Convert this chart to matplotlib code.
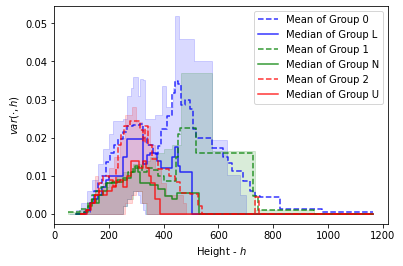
import matplotlib.pyplot as plt
import numpy as np

# Group 0 (blue)
x0_mean = [80, 110, 130, 145, 160, 175, 190, 205, 220, 235, 250, 265, 290, 315, 325, 340, 360, 380, 392,
           411, 429, 441, 453, 462, 478, 496, 508, 520, 577, 617, 636, 648, 690, 714, 734, 752, 825, 977, 1165]
y0_mean = [0, 0.0005, 0.003, 0.006, 0.008, 0.010, 0.0135, 0.016, 0.018, 0.0196, 0.0214, 0.023, 0.0232, 0.0235,
           0.020, 0.0182, 0.0156, 0.0178, 0.0222, 0.0257, 0.0318, 0.0348, 0.034, 0.0287, 0.030, 0.0275, 0.0222,
           0.0200, 0.0174, 0.015, 0.0134, 0.0114, 0.0086, 0.006, 0.0047, 0.0045, 0.0013, 0.0005, 0.0005]
x0_med = [80, 115, 130, 145, 160, 175, 190, 200, 250, 268, 325, 340, 350, 375, 390, 430, 440, 452, 459,
          502, 1165]
y0_med = [0, 0.001, 0.003, 0.004, 0.005, 0.007, 0.009, 0.010, 0.015, 0.0196, 0.013, 0.0155, 0.016, 0.014,
          0.012, 0.015, 0.0175, 0.0125, 0.0109, 0, 0]
x0_band = [60, 80, 100, 120, 140, 160, 180, 200, 215, 250, 265, 280, 290, 305, 315, 325, 332, 370, 395,
           410, 435, 441, 455, 511, 577, 632, 680, 700, 1165]
y0_up = [0, 0.001, 0.003, 0.006, 0.009, 0.013, 0.017, 0.021, 0.0243, 0.025, 0.031, 0.033, 0.0358, 0.031,
         0.0355, 0.035, 0.0248, 0.026, 0.0335, 0.028, 0.033, 0.052, 0.046, 0.040, 0.0195, 0.0102, 0.005, 0, 0]
y0_low = [0, 0, 0, 0, 0, 0, 0, 0, 0, 0.002, 0.004, 0.005, 0.006, 0.005, 0.003, 0.001, 0, 0, 0,
          0, 0, 0, 0, 0, 0, 0, 0, 0, 0]

# Group 1 (green)
x1_mean = [50, 94, 123, 140, 155, 170, 190, 210, 230, 250, 270, 290, 310, 320, 340, 360, 380, 400, 445,
           452, 459, 520, 726, 745, 950, 1165]
y1_mean = [0.0006, 0.0012, 0.003, 0.005, 0.006, 0.007, 0.008, 0.0085, 0.009, 0.0095, 0.011, 0.012, 0.0125,
           0.011, 0.012, 0.0115, 0.010, 0.0086, 0.015, 0.021, 0.0226, 0.0161, 0.0047, 0.001, 0, 0]
x1_med = [80, 110, 125, 140, 155, 165, 180, 195, 230, 250, 265, 280, 295, 305, 315, 335, 350, 380, 405,
          430, 450, 528, 1165]
y1_med = [0, 0.0005, 0.002, 0.004, 0.003, 0.005, 0.006, 0.008, 0.0085, 0.009, 0.0095, 0.011, 0.0125, 0.011,
          0.008, 0.008, 0.0075, 0.0065, 0.0047, 0.004, 0.0056, 0, 0]
x1_band = [50, 100, 130, 150, 170, 200, 230, 250, 265, 290, 320, 335, 350, 380, 400, 430, 464, 575, 735,
           950, 1165]
y1_up = [0.0005, 0.001, 0.003, 0.006, 0.007, 0.009, 0.010, 0.011, 0.011, 0.013, 0.014, 0.014, 0.015, 0.016,
         0.017, 0.018, 0.037, 0.0165, 0.001, 0, 0]
y1_low = [0, 0, 0, 0, 0, 0, 0, 0.002, 0.004, 0.006, 0.003, 0, 0, 0,
          0, 0, 0, 0, 0, 0, 0]

# Group 2 (red)
x2_mean = [95, 115, 130, 150, 165, 180, 200, 216, 225, 235, 245, 255, 276, 313, 325, 332, 343, 358, 380,
           420, 441, 459, 496, 525, 539, 735, 748, 1165]
y2_mean = [0, 0.001, 0.003, 0.005, 0.008, 0.010, 0.009, 0.0073, 0.012, 0.018, 0.021, 0.023, 0.0243, 0.022,
           0.019, 0.023, 0.018, 0.0143, 0.0117, 0.010, 0.0083, 0.0056, 0.0052, 0.002, 0, 0.0045, 0, 0]
x2_med = [100, 120, 135, 150, 165, 180, 195, 210, 225, 240, 250, 265, 280, 310, 325, 335, 345, 355, 370,
          385, 1165]
y2_med = [0, 0.001, 0.003, 0.005, 0.006, 0.005, 0.006, 0.007, 0.0085, 0.009, 0.007, 0.010, 0.0139, 0.012,
          0.014, 0.012, 0.010, 0.008, 0.004, 0, 0]
x2_band = [90, 110, 130, 150, 160, 180, 200, 220, 240, 260, 285, 300, 320, 340, 350, 370, 390, 410, 470,
           480, 1165]
y2_up = [0, 0.001, 0.004, 0.010, 0.006, 0.008, 0.012, 0.015, 0.020, 0.026, 0.028, 0.024, 0.022, 0.023,
         0.018, 0.012, 0.008, 0.005, 0.003, 0, 0]
y2_low = [0, 0, 0, 0, 0, 0, 0, 0, 0, 0.003, 0.005, 0.006, 0.003, 0, 0, 0, 0, 0, 0, 0, 0]

fig, ax = plt.subplots(figsize=(5.6, 3.7), dpi=72)
fig.subplots_adjust(left=0.134, right=0.963, top=0.977, bottom=0.158)

ax.fill_between(x0_band, y0_low, y0_up, step='post', color='b', alpha=0.15)
ax.fill_between(x1_band, y1_low, y1_up, step='post', color='g', alpha=0.15)
ax.fill_between(x2_band, y2_low, y2_up, step='post', color='r', alpha=0.15)

ax.plot(x0_mean, y0_mean, 'b--', drawstyle='steps-post', alpha=0.8, label='Mean of Group 0')
ax.plot(x0_med, y0_med, 'b-', drawstyle='steps-post', alpha=0.8, label='Median of Group L')
ax.plot(x1_mean, y1_mean, 'g--', drawstyle='steps-post', alpha=0.8, label='Mean of Group 1')
ax.plot(x1_med, y1_med, 'g-', drawstyle='steps-post', alpha=0.8, label='Median of Group N')
ax.plot(x2_mean, y2_mean, 'r--', drawstyle='steps-post', alpha=0.8, label='Mean of Group 2')
ax.plot(x2_med, y2_med, 'r-', drawstyle='steps-post', alpha=0.8, label='Median of Group U')

ax.set_xlim(0, 1220)
ax.set_ylim(-0.0026, 0.0546)
ax.set_xlabel('Height - $h$')
ax.set_ylabel(r'$var(\cdot,h)$')
ax.legend(loc='upper right')
plt.savefig('out.png')
